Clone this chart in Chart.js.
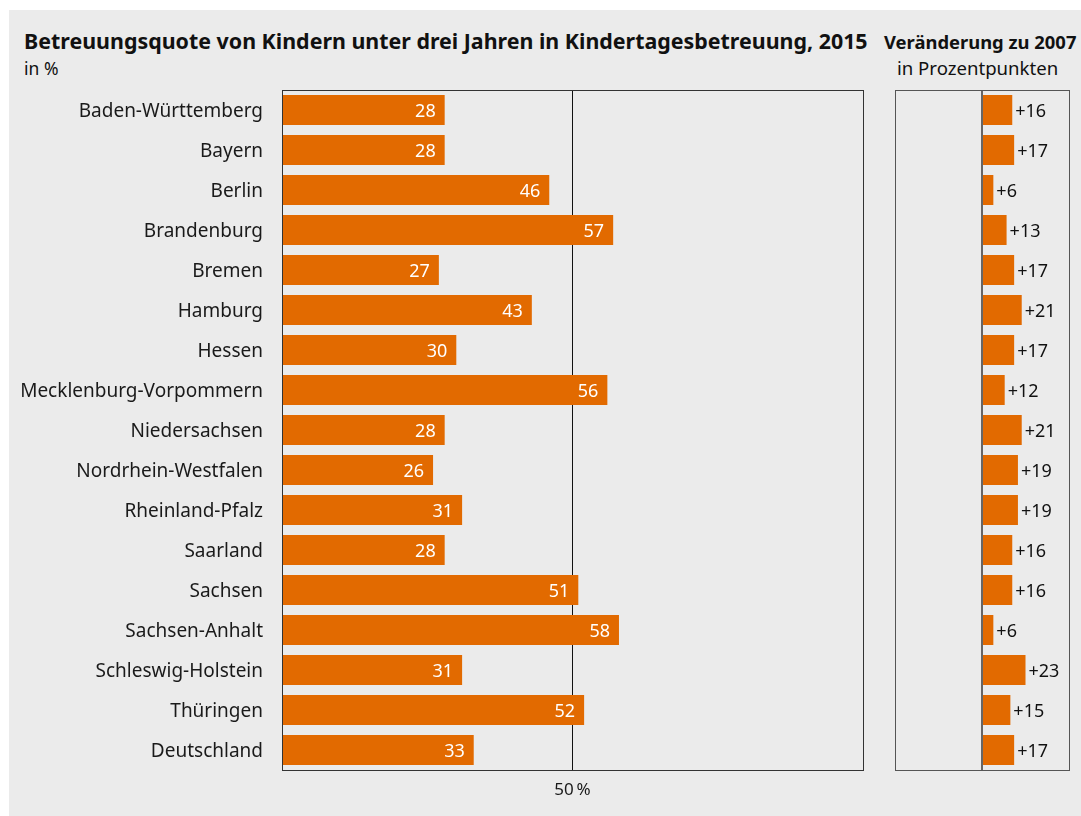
<!DOCTYPE html>
<html lang="de">
<head>
<meta charset="utf-8">
<script src="https://cdn.jsdelivr.net/npm/chart.js@4.4.0/dist/chart.umd.min.js"></script>
<style>
  body { margin: 0; background: #fff; font-family: "Noto Sans", sans-serif; color: #111; }
  #bg { position: absolute; left: 9px; top: 10px; width: 1072px; height: 806px; background: #ebebeb; }
  canvas { position: absolute; top: 0; }
  .t { position: absolute; white-space: nowrap; }
</style>
</head>
<body>
<div id="bg"></div>
<div class="t" style="left:24px; top:26px; font-size:21.4px; font-weight:bold;">Betreuungsquote von Kindern unter drei Jahren in Kindertagesbetreuung, 2015</div>
<div class="t" style="left:24px; top:56px; font-size:17.5px;">in %</div>
<div class="t" style="left:884px; top:29px; font-size:18.4px; font-weight:bold;">Veränderung zu 2007</div>
<div class="t" style="left:897px; top:55px; font-size:18.6px;">in Prozentpunkten</div>
<canvas id="links" width="870" height="816" style="left:0"></canvas>
<canvas id="rechts" width="201" height="816" style="left:880px"></canvas>
<script>
// Bundeslaender
var laender = ["Baden-Württemberg", "Bayern", "Berlin", "Brandenburg", "Bremen", "Hamburg", "Hessen",
  "Mecklenburg-Vorpommern", "Niedersachsen", "Nordrhein-Westfalen", "Rheinland-Pfalz", "Saarland",
  "Sachsen", "Sachsen-Anhalt", "Schleswig-Holstein", "Thüringen", "Deutschland"];
// Betreuungsquote 2015 in %
var quote2015 = [28, 28, 46, 57, 27, 43, 30, 56, 28, 26, 31, 28, 51, 58, 31, 52, 33];
// Veraenderung zu 2007 in Prozentpunkten
var veraenderung = [16, 17, 6, 13, 17, 21, 17, 12, 21, 19, 19, 16, 16, 6, 23, 15, 17];
// Achsenmarke links
var tickLinks = [50];

var orange = "#e26a00";

// rahmen um die plotflaeche
var rahmenPlugin = {
  id: "rahmen",
  afterDatasetsDraw: function(chart, args, opts) {
    var a = chart.chartArea;
    var ctx = chart.ctx;
    ctx.save();
    ctx.strokeStyle = opts.farbe;
    ctx.lineWidth = 1;
    ctx.strokeRect(Math.round(a.left) + 0.5, Math.round(a.top) + 0.5, Math.round(a.right - a.left), Math.round(a.bottom - a.top));
    ctx.restore();
  }
};

// zahlen an den balken
var wertePlugin = {
  id: "werte",
  afterDatasetsDraw: function(chart, args, opts) {
    var ctx = chart.ctx;
    var meta = chart.getDatasetMeta(0);
    var daten = chart.data.datasets[0].data;
    ctx.save();
    ctx.font = opts.font;
    ctx.textBaseline = "middle";
    for (var i = 0; i < meta.data.length; i++) {
      var bar = meta.data[i];
      if (opts.innen) {
        ctx.fillStyle = "#fff";
        ctx.textAlign = "right";
        ctx.fillText(daten[i], bar.x - 9, bar.y + 2);
      } else {
        ctx.fillStyle = "#111";
        ctx.textAlign = "left";
        ctx.fillText("+" + daten[i], bar.x + 3, bar.y + 2);
      }
    }
    ctx.restore();
  }
};

new Chart(document.getElementById("links"), {
  type: "bar",
  data: {
    labels: laender,
    datasets: [{
      data: quote2015,
      backgroundColor: orange,
      barPercentage: 0.75,
      categoryPercentage: 1
    }]
  },
  options: {
    indexAxis: "y",
    responsive: false,
    animation: false,
    layout: { padding: { top: 90, right: 7, left: 0, bottom: 0 } },
    plugins: {
      legend: { display: false },
      tooltip: { enabled: false },
      rahmen: { farbe: "#333" },
      werte: { innen: true, font: "18px 'Noto Sans'" }
    },
    scales: {
      y: {
        grid: { display: false },
        border: { display: false },
        ticks: { color: "#1a1a1a", font: { family: "Noto Sans", size: 19 }, padding: 11, labelOffset: 2 },
        afterFit: function(scale) { scale.width = 282; }
      },
      x: {
        min: 0,
        max: 100,
        afterBuildTicks: function(axis) {
          axis.ticks = tickLinks.map(function(v) { return { value: v }; });
        },
        grid: { color: "#111", lineWidth: 1, drawTicks: false },
        border: { display: false },
        ticks: {
          color: "#1a1a1a", font: { family: "Noto Sans", size: 17 }, padding: 10,
          callback: function(v) { return v + "\u202f%"; }
        },
        afterFit: function(scale) { scale.height = 46; }
      }
    }
  },
  plugins: [rahmenPlugin, wertePlugin]
});

new Chart(document.getElementById("rechts"), {
  type: "bar",
  data: {
    labels: laender,
    datasets: [{
      data: veraenderung,
      backgroundColor: orange,
      barPercentage: 0.75,
      categoryPercentage: 1
    }]
  },
  options: {
    indexAxis: "y",
    responsive: false,
    animation: false,
    layout: { padding: { top: 90, right: 12, left: 15, bottom: 0 } },
    plugins: {
      legend: { display: false },
      tooltip: { enabled: false },
      rahmen: { farbe: "#555" },
      werte: { innen: false, font: "18px 'Noto Sans'" }
    },
    scales: {
      y: { display: false },
      x: {
        min: -46,
        max: 46,
        afterBuildTicks: function(axis) { axis.ticks = [{ value: 0 }]; },
        grid: { color: "#666", lineWidth: 2, drawTicks: false },
        border: { display: false },
        ticks: { display: false },
        afterFit: function(scale) { scale.height = 46; }
      }
    }
  },
  plugins: [rahmenPlugin, wertePlugin]
});
</script>
</body>
</html>
